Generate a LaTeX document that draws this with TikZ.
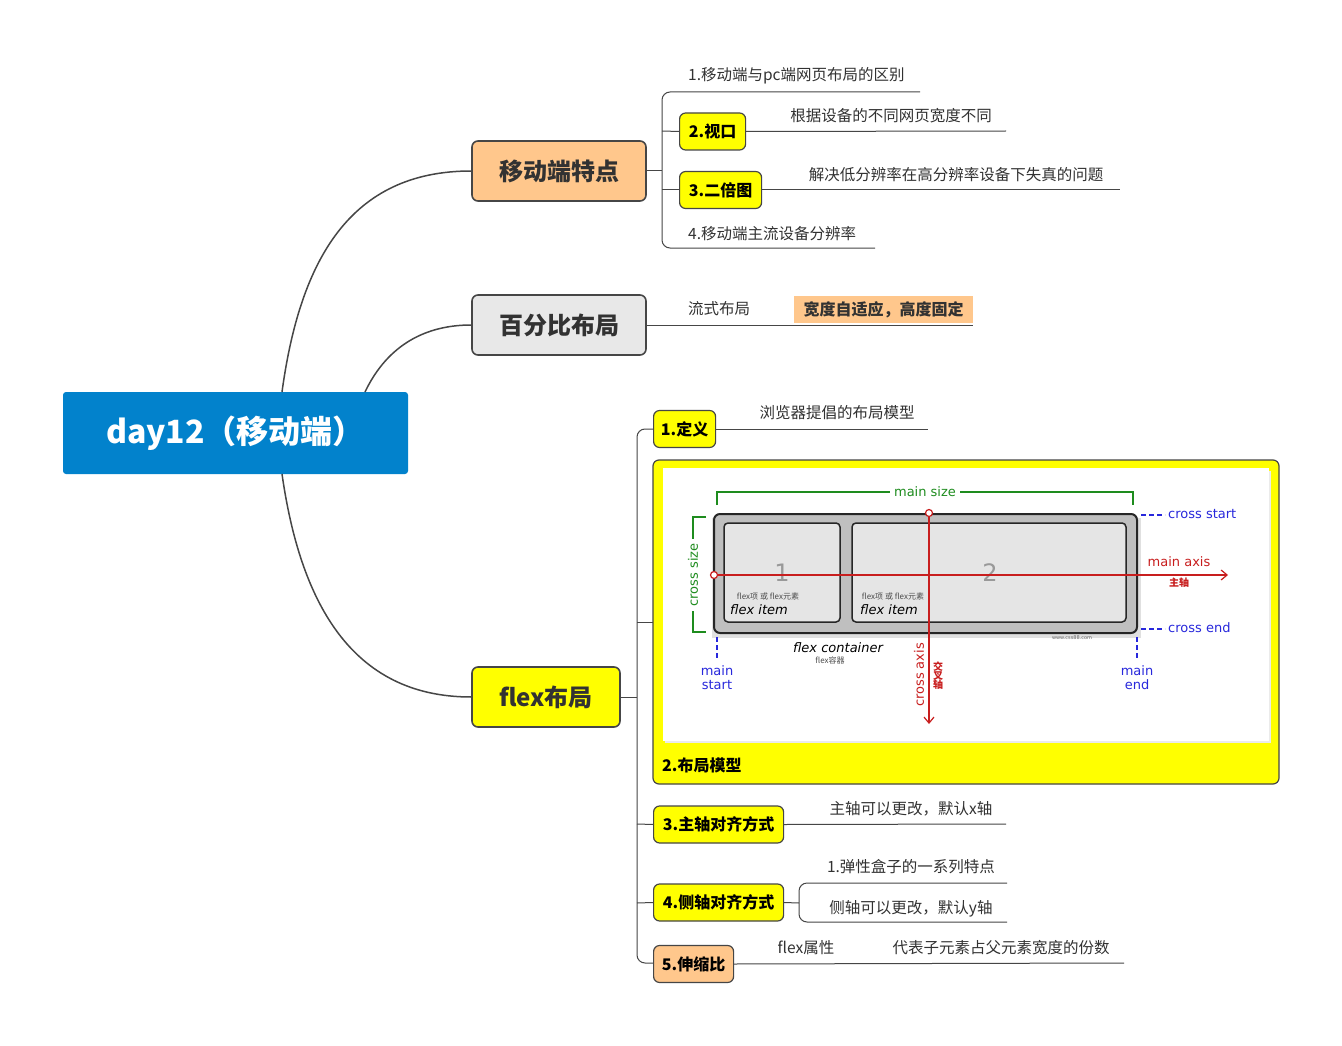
\documentclass[tikz,border=0pt]{standalone}
\usepackage{fontspec}
\setmainfont{Noto Sans CJK SC}
\newfontfamily\latinf{DejaVu Sans}
\usetikzlibrary{arrows.meta}
\definecolor{rootc}{RGB}{2,130,204}
\definecolor{orng}{RGB}{255,199,140}
\definecolor{lgray}{RGB}{232,232,232}
\definecolor{ylw}{RGB}{255,255,0}
\definecolor{lnc}{RGB}{70,70,70}
\definecolor{txc}{RGB}{50,50,50}
\definecolor{grn}{RGB}{30,140,30}
\definecolor{rd}{RGB}{200,30,30}
\definecolor{bl}{RGB}{40,40,220}
\tikzset{
  mainbox/.style={draw=lnc,line width=1.6pt,rounded corners=6pt,minimum height=60pt,font=\fontsize{24}{24}\selectfont\bfseries,text=txc},
  subbox/.style={draw=lnc,line width=1.2pt,rounded corners=6pt,minimum height=37pt,font=\fontsize{16}{16}\selectfont\bfseries,text=black,inner xsep=2pt,anchor=west},
  lbl/.style={font=\fontsize{15.5}{15.5}\selectfont,text=txc,inner sep=0pt},
  ln/.style={draw=lnc,line width=1pt},
  br/.style={draw=lnc,line width=1pt,rounded corners=8pt},
  bdash/.style={bl,line width=1.2pt,dash pattern=on 5pt off 3pt},
}
\begin{document}
\begin{tikzpicture}[x=1pt,y=-1pt]
\useasboundingbox (0,0) rectangle (1342,1046);
\fill[white] (0,0) rectangle (1342,1046);
% root
\node[fill=rootc,rounded corners=3pt,minimum width=345pt,minimum height=82pt,text=white,font=\fontsize{32}{32}\selectfont\bfseries] (root) at (235.5,433) {day12（移动端）};
\node[mainbox,fill=orng,minimum width=174pt] (m1) at (559,171) {移动端特点};
\node[mainbox,fill=lgray,minimum width=174pt] (m2) at (559,325) {百分比布局};
\node[mainbox,fill=ylw,minimum width=148pt] (m3) at (546,697) {flex布局};
\coordinate (r1) at (282,392); \coordinate (r2) at (365,392); \coordinate (r3) at (282,474);
\draw[ln,line width=1.5pt] (r1) .. controls (300,260) and (350,171) .. (m1.west);
\draw[ln,line width=1.5pt] (r2) .. controls (385,350) and (420,325) .. (m2.west);
\draw[ln,line width=1.5pt] (r3) .. controls (300,600) and (350,697) .. (m3.west);
% branch 1
\draw[ln] (m1.east) -- (662,171);
\draw[br] (920,92) -- (662,92) -- (662,248) -- (875,248);
\node[lbl,anchor=south west] (t11) at (688,84) {1.移动端与pc端网页布局的区别};
\node[subbox,fill=ylw,minimum width=66pt] (b2) at (679,131.5) {2.视口};
\draw[ln] (662,131) -- (b2.west); \draw[ln] (b2.east) -- (1006,131);
\node[lbl] (t2) at (891,116) {根据设备的不同网页宽度不同};
\node[subbox,fill=ylw,minimum width=82pt] (b3) at (679,190) {3.二倍图};
\draw[ln] (662,190) -- (b3.west); \draw[ln] (b3.east) -- (1120,190);
\node[lbl] (t3) at (956,175) {解决低分辨率在高分辨率设备下失真的问题};
\node[lbl,anchor=south west] (t4) at (688,241) {4.移动端主流设备分辨率};
% branch 2
\draw[ln] (m2.east) -- (973,325);
\node[lbl] (p1) at (719,309) {流式布局};
\node[fill=orng,minimum width=179pt,minimum height=27pt,inner sep=0pt,font=\fontsize{16}{16}\selectfont\bfseries,text=txc] (p2) at (883.5,309.5) {宽度自适应，高度固定};
% branch 3
\draw[ln] (m3.east) -- (637,697);
\draw[br] (653,429) -- (637,429) -- (637,963) -- (653,963);
\node[subbox,fill=ylw,minimum width=62pt] (f1) at (653,429) {1.定义};
\draw[ln] (f1.east) -- (928,429);
\node[lbl] (f1t) at (837,413) {浏览器提倡的布局模型};
% big box
\draw[ln] (637,622) -- (653,622);
\node[draw=lnc,line width=1.2pt,rounded corners=6pt,fill=ylw,minimum width=626pt,minimum height=324pt] (f2) at (966,622) {};
\fill[black!8] (665,471) rectangle (1271,743);
\fill[white] (663,468) rectangle (1269,741);
\node[anchor=west,inner sep=0pt,font=\fontsize{16}{16}\selectfont\bfseries] (f2t) at (662,765) {2.布局模型};
% diagram
\begin{scope}[font=\latinf]
\draw[grn,line width=1.3pt] (717,505) -- (717,492) -- (1133,492) -- (1133,505);
\node[fill=white,text=grn,font=\latinf\fontsize{13}{13}\selectfont,inner xsep=4pt,inner ysep=0pt] (ms) at (925,492) {main size};
\draw[grn,line width=1.3pt] (706,517) -- (693,517) -- (693,632) -- (706,632);
\node[fill=white,text=grn,rotate=90,font=\latinf\fontsize{13}{13}\selectfont,inner xsep=4pt,inner ysep=0pt] (cs) at (693,575) {cross size};
\fill[black!12] (712,518) rectangle (1141,638);
\node[draw=black!85,line width=2pt,rounded corners=6pt,fill=black!25,minimum width=423pt,minimum height=119pt] (cont) at (925.5,573.5) {};
\node[draw=black!85,line width=1.5pt,rounded corners=4pt,fill=black!10,minimum width=116pt,minimum height=99pt] (it1) at (782,572.5) {};
\node[draw=black!85,line width=1.5pt,rounded corners=4pt,fill=black!10,minimum width=274pt,minimum height=99pt] (it2) at (989,572.5) {};
\node[text=black!40,font=\latinf\fontsize{24}{24}\selectfont] (n1) at (782,573) {1};
\node[text=black!40,font=\latinf\fontsize{24}{24}\selectfont] (n2) at (990,573) {2};
\node[font=\itshape\fontsize{8}{8}\selectfont,text=black!70,inner sep=0pt] (s1) at (768,596) {flex项 或 flex元素};
\node[font=\latinf\itshape\fontsize{13}{13}\selectfont,inner sep=0pt] (i1) at (759,610) {flex item};
\node[font=\itshape\fontsize{8}{8}\selectfont,text=black!70,inner sep=0pt] (s2) at (893,596) {flex项 或 flex元素};
\node[font=\latinf\itshape\fontsize{13}{13}\selectfont,inner sep=0pt] (i2) at (889,610) {flex item};
\node[font=\latinf\itshape\fontsize{13}{13}\selectfont,inner sep=0pt] (fc) at (838,648) {flex container};
\node[font=\fontsize{8}{8}\selectfont,text=black!70,inner sep=0pt] (fcs) at (830,660) {flex容器};
\node[font=\latinf\fontsize{5}{5}\selectfont,text=black!60,inner sep=0pt] (www) at (1072,638) {www.css88.com};
% axes
\coordinate (ma0) at (714,575); \coordinate (ma1) at (1228,575);
\draw[rd,line width=1.2pt,-{Straight Barb[length=6pt,width=10pt]}] (ma0) -- (ma1);
\draw[rd,line width=1.2pt,fill=white] (ma0) circle (3.5pt);
\coordinate (ca0) at (929,513); \coordinate (ca1) at (929,724);
\draw[rd,line width=1.2pt,-{Straight Barb[length=6pt,width=10pt]}] (ca0) -- (ca1);
\draw[rd,line width=1.2pt,fill=white] (ca0) circle (3.5pt);
\node[text=rd,font=\latinf\fontsize{13}{13}\selectfont,inner sep=0pt] (mat) at (1179,562) {main axis};
\node[text=rd,font=\fontsize{10}{10}\selectfont\bfseries,inner sep=0pt] (mat2) at (1179,583) {主轴};
\node[text=rd,rotate=90,font=\latinf\fontsize{13}{13}\selectfont,inner sep=0pt] (cat) at (919,675) {cross axis};
\node[text=rd,font=\fontsize{10}{10}\selectfont\bfseries,inner sep=0pt,align=center] (cat2) at (938,676) {交\\[-1pt]叉\\[-1pt]轴};
% blue
\coordinate (cs0) at (1141,515); \coordinate (ce0) at (1141,629);
\draw[bdash] (cs0) -- (1165,515);
\node[text=bl,anchor=west,font=\latinf\fontsize{13}{13}\selectfont,inner sep=0pt] (cst) at (1168,514) {cross start};
\draw[bdash] (ce0) -- (1165,629);
\node[text=bl,anchor=west,font=\latinf\fontsize{13}{13}\selectfont,inner sep=0pt] (cet) at (1168,628) {cross end};
\coordinate (ms0) at (717,637); \coordinate (me0) at (1137,637);
\draw[bdash] (ms0) -- (717,660);
\draw[bdash] (me0) -- (1137,660);
\node[text=bl,align=center,font=\latinf\fontsize{13}{14}\selectfont,inner sep=0pt] (mst) at (717,678) {main\\start};
\node[text=bl,align=center,font=\latinf\fontsize{13}{14}\selectfont,inner sep=0pt] (met) at (1137,678) {main\\end};
\end{scope}
% 3
\node[subbox,fill=ylw,minimum width=130pt] (f3) at (653,824.5) {3.主轴对齐方式};
\draw[ln] (f3.east) -- (1006,824);
\node[lbl] (f3t) at (911,809) {主轴可以更改，默认x轴};
\draw[ln] (637,824) -- (f3.west);
% 4
\node[subbox,fill=ylw,minimum width=130pt] (f4) at (653,902.5) {4.侧轴对齐方式};
\draw[ln] (637,903) -- (f4.west);
\draw[ln] (f4.east) -- (799,903);
\draw[br] (1007,883) -- (799,883) -- (799,922) -- (1007,922);
\node[lbl] (f4a) at (911,867) {1.弹性盒子的一系列特点};
\node[lbl] (f4b) at (911,909) {侧轴可以更改，默认y轴};
% 5
\node[subbox,fill=orng,minimum width=80pt] (f5) at (653,964) {5.伸缩比};
\draw[ln] (f5.east) -- (1124,963);
\node[lbl] (f5a) at (806,948) {flex属性};
\node[lbl] (f5b) at (1001,948) {代表子元素占父元素宽度的份数};
\end{tikzpicture}
\end{document}
